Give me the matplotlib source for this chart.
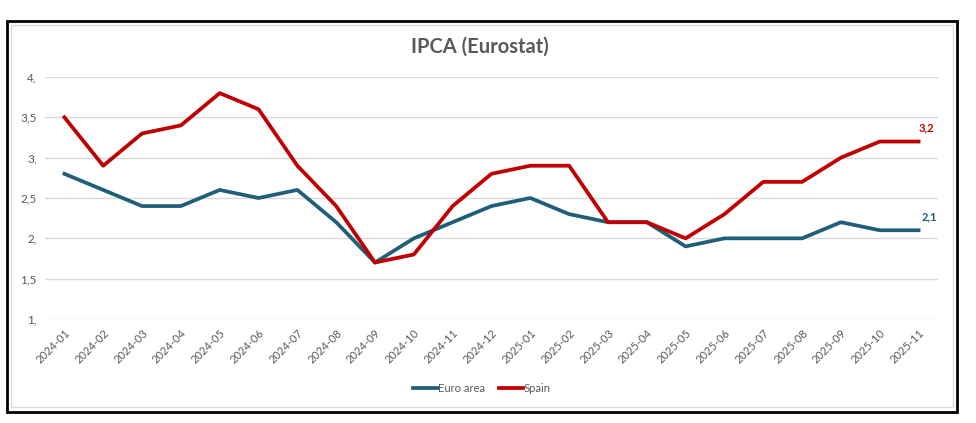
import matplotlib.pyplot as plt
from matplotlib.patches import Rectangle

# Data
months = [
    "2024-01", "2024-02", "2024-03", "2024-04", "2024-05", "2024-06",
    "2024-07", "2024-08", "2024-09", "2024-10", "2024-11", "2024-12",
    "2025-01", "2025-02", "2025-03", "2025-04", "2025-05", "2025-06",
    "2025-07", "2025-08", "2025-09", "2025-10", "2025-11",
]
euro_area = [2.8, 2.6, 2.4, 2.4, 2.6, 2.5, 2.6, 2.2, 1.7, 2.0, 2.2, 2.4,
             2.5, 2.3, 2.2, 2.2, 1.9, 2.0, 2.0, 2.0, 2.2, 2.1, 2.1]
spain = [3.5, 2.9, 3.3, 3.4, 3.8, 3.6, 2.9, 2.4, 1.7, 1.8, 2.4, 2.8,
         2.9, 2.9, 2.2, 2.2, 2.0, 2.3, 2.7, 2.7, 3.0, 3.2, 3.2]
y_ticks = [1.0, 1.5, 2.0, 2.5, 3.0, 3.5, 4.0]
y_labels = ["1,", "1,5", "2,", "2,5", "3,", "3,5", "4,"]

EURO_COLOR = "#1f5f7a"
SPAIN_COLOR = "#c00000"
GRAY = "#595959"

plt.rcParams["font.family"] = ["Lato", "DejaVu Sans"]

W, H = 976, 423
fig = plt.figure(figsize=(W / 100, H / 100), dpi=100)

# frame around the chart
fig.patches.append(Rectangle((7 / W, 1 - 412 / H), 950 / W, 391 / H,
                             transform=fig.transFigure, fill=False,
                             edgecolor="black", linewidth=2))
fig.patches.append(Rectangle((11 / W, 1 - 407 / H), 942 / W, 382 / H,
                             transform=fig.transFigure, fill=False,
                             edgecolor="#d9d9d9", linewidth=1))

ax = fig.add_axes([45 / W, 1 - 319 / H, 893 / W, 242 / H])
x = list(range(len(months)))

ax.plot(x, euro_area, color=EURO_COLOR, linewidth=2.7, label="Euro area",
        solid_joinstyle="round", zorder=3)
ax.plot(x, spain, color=SPAIN_COLOR, linewidth=2.7, label="Spain",
        solid_joinstyle="round", zorder=3)

ax.set_xlim(-0.5, len(months) - 0.5)
ax.set_ylim(1.0, 4.0)
ax.set_yticks(y_ticks)
ax.set_yticklabels(y_labels, color=GRAY, fontsize=8.5)
ax.set_xticks(x)
ax.set_xticklabels(months, rotation=45, ha="right", rotation_mode="anchor",
                   color=GRAY, fontsize=8)
ax.tick_params(length=0, pad=6)
ax.grid(axis="y", color="#d9d9d9", linewidth=1)
ax.set_axisbelow(True)
for s in ax.spines.values():
    s.set_visible(False)

# end labels
ax.annotate("3,2", (x[-1], spain[-1]), xytext=(0, 7), textcoords="offset points",
            color=SPAIN_COLOR, fontsize=8, fontweight="bold", ha="left")
ax.annotate("2,1", (x[-1], euro_area[-1]), xytext=(2, 7), textcoords="offset points",
            color=EURO_COLOR, fontsize=8, fontweight="bold", ha="left")

fig.text(480 / W, 1 - 47 / H, "IPCA (Eurostat)", ha="center", va="center",
         fontsize=14.5, fontweight="bold", color=GRAY)

fig.legend(loc="center", bbox_to_anchor=(482 / W, 1 - 388 / H), ncol=2,
           frameon=False, fontsize=8, labelcolor=GRAY, handlelength=2.2,
           handletextpad=0.05, columnspacing=1.2)

fig.savefig("out.png", dpi=100)
